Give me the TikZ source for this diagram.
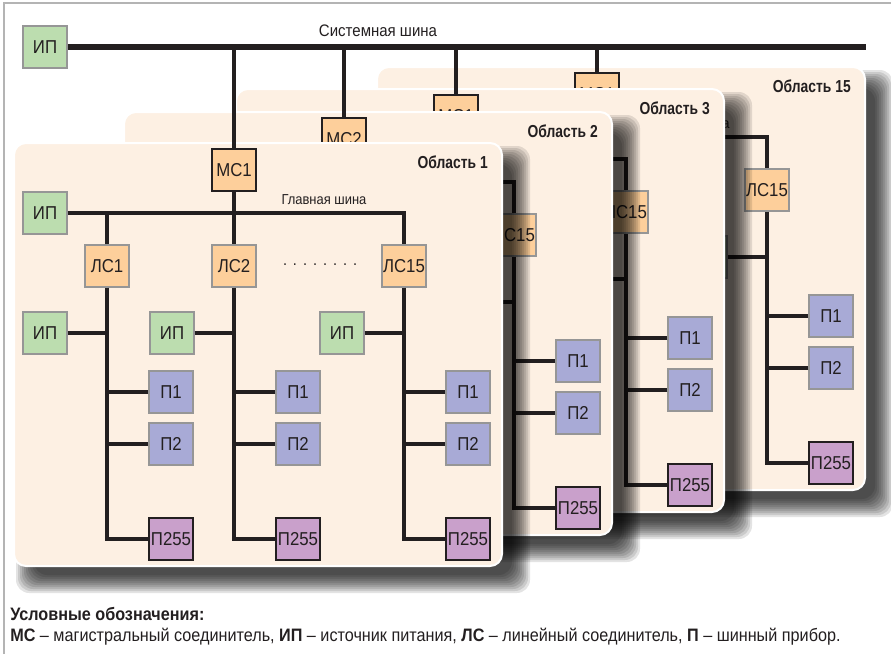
\documentclass[tikz,border=0pt]{standalone}
\usepackage{fontspec}
\setmainfont[FakeStretch=0.9]{Liberation Sans}
\newfontfamily\areafont[FakeStretch=0.8]{Liberation Sans}
\definecolor{panelfill}{RGB}{253,240,227}
\definecolor{ipgreen}{RGB}{188,221,175}
\definecolor{lsorange}{RGB}{253,207,155}
\definecolor{pblue}{RGB}{168,170,214}
\definecolor{ppurple}{RGB}{201,160,203}
\definecolor{boxedge}{RGB}{150,150,150}
\definecolor{inkdark}{RGB}{35,31,32}
\definecolor{framegrey}{RGB}{180,180,180}

\tikzset{
  box/.style={draw=boxedge, line width=0.9pt, minimum width=33pt,
    minimum height=31.5pt, inner sep=0pt, text=inkdark,
    font=\fontsize{14}{16}\selectfont},
  ipbox/.style={box, fill=ipgreen},
  lsbox/.style={box, fill=lsorange},
  mcbox/.style={lsbox, draw=inkdark},
  pbox/.style={box, fill=pblue},
  pendbox/.style={box, fill=ppurple, draw=inkdark},
  wire/.style={draw=inkdark, line width=2.6pt},
  sysbus/.style={draw=inkdark, line width=4.2pt},
  panel/.style={fill=panelfill, draw=white, line width=1.5pt, rounded corners=9pt},
  buslabel/.style={text=inkdark, inner sep=0pt},
  areaname/.style={text=inkdark, inner sep=0pt, anchor=east,
    font=\areafont\fontsize{13}{15}\selectfont\bfseries},
}

% one area: shift, name prefix, MC label, area number
\newcommand\areapanel[4]{%
  \begin{scope}[shift={#1}]
    \foreach \k in {0,...,9} {
      \pgfmathsetmacro\e{12-2*\k}
      \fill[black, opacity=0.11, rounded corners=10pt]
        ({28-\e},{158-\e}) rectangle ({518+\e},{581+\e});
    }
    \path[panel] (14,143) rectangle (502,566);
    \node[areaname] (#2name) at (488,162) {Область #4};
    \node[mcbox] (#2mc) at (234,170) {#3};
    \node[ipbox] (#2ip) at (45,213) {ИП};
    \node[buslabel, font=\fontsize{10.8}{12}\selectfont] (#2bl) at (324,200) {Главная шина};
    \node[lsbox] (#2ls1) at (107,266) {ЛС1};
    \node[lsbox] (#2ls2) at (234,266) {ЛС2};
    \node[lsbox] (#2ls3) at (404,266) {ЛС15};
    \node[buslabel, font=\fontsize{12}{14}\selectfont] (#2dots) at (320,265)
      {.\hspace{4.5pt}.\hspace{4.5pt}.\hspace{4.5pt}.\hspace{4.5pt}.\hspace{4.5pt}.\hspace{4.5pt}.\hspace{4.5pt}.};
    \draw[wire] (#2mc.north) -- (#2mc.north |- sysip);
    \draw[wire] (#2mc.south) -- (#2ls2.north);
    \draw[wire] (#2ip.east) -| (#2ls3.north);
    \draw[wire] (#2ls1.north) -- (#2ls1 |- #2ip);
    \foreach \c/\bx in {1/107,2/234,3/404} {
      \node[ipbox] (#2ipc\c) at (\bx-62,333) {ИП};
      \node[pbox] (#2pa\c) at (\bx+64,392) {П1};
      \node[pbox] (#2pb\c) at (\bx+64,444) {П2};
      \node[pendbox] (#2pc\c) at (\bx+64,539) {П255};
      \draw[wire] (#2ls\c.south) |- (#2pc\c.west);
      \draw[wire] (#2ipc\c.east) -- (#2ipc\c.east -| #2ls\c);
      \draw[wire] (#2pa\c.west) -- (#2pa\c.west -| #2ls\c);
      \draw[wire] (#2pb\c.west) -- (#2pb\c.west -| #2ls\c);
    }
  \end{scope}}

\begin{document}
\begin{tikzpicture}[x=0.75pt, y=-0.75pt]
  \useasboundingbox (0,0) rectangle (891,654);
  \fill[white] (0,0) rectangle (891,654);
  \draw[framegrey, line width=1.1pt] (4,654) -- (4,3) -- (891,3);

  % system bus
  \node[ipbox] (sysip) at (45,47) {ИП};
  \coordinate (sysend) at (866,47);
  \draw[sysbus] (sysip.east) -- (sysend);
  \node[buslabel, font=\fontsize{12.5}{14}\selectfont] (syslabel) at (378,31) {Системная шина};

  % areas, back to front
  \areapanel{(363,-76)}{d}{МС1}{15}
  \areapanel{(222,-54)}{c}{МС1}{3}
  \areapanel{(110,-31)}{b}{МС2}{2}
  \areapanel{(0,0)}{a}{МС1}{1}

  % legend
  \node[anchor=north west, align=left, inner sep=0pt, text=inkdark,
    font=\fontsize{13.5}{15.75}\selectfont] (legend) at (10,607)
    {\textbf{Условные обозначения:}\\
     \textbf{МС} – магистральный соединитель, \textbf{ИП} – источник питания,
     \textbf{ЛС} – линейный соединитель, \textbf{П} – шинный прибор.};
\end{tikzpicture}
\end{document}
